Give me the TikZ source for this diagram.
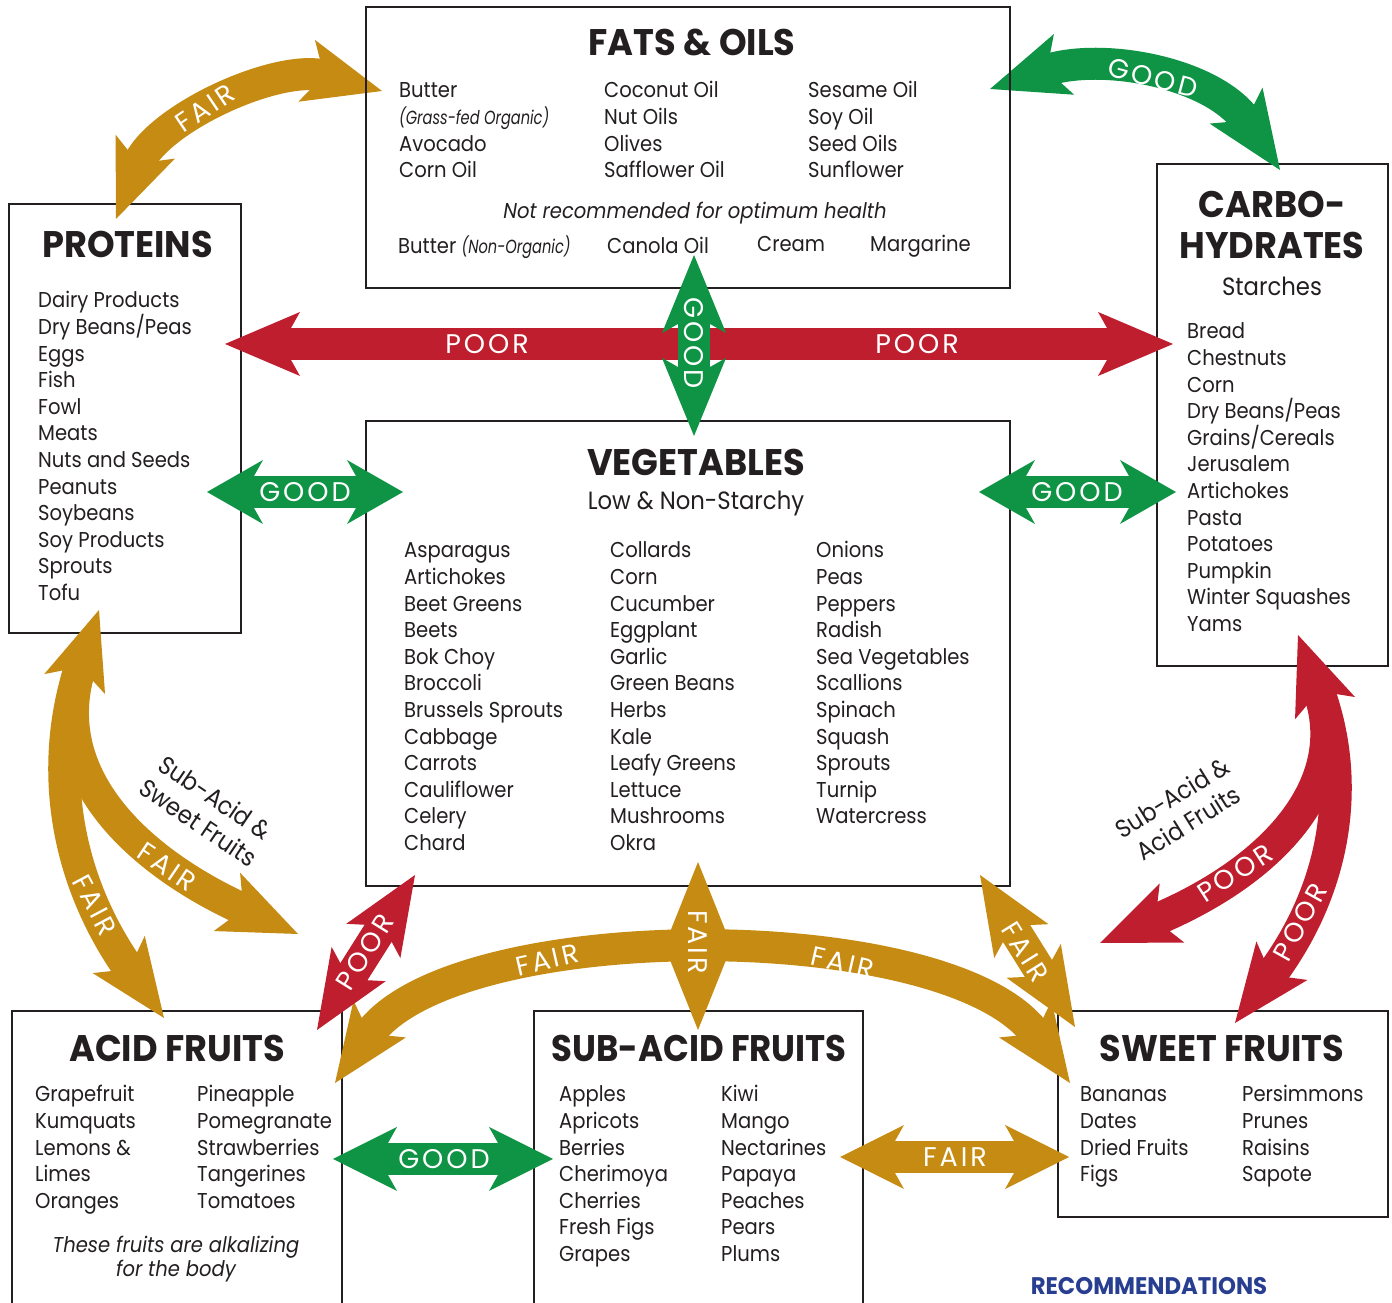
\documentclass[tikz,border=0pt]{standalone}
\usepackage{fontspec}
\setmainfont{Poppins}[FakeStretch=0.91]
\newfontfamily\ttlfont{Poppins}[FakeStretch=0.95]
\newfontfamily\labfont{Poppins}[LetterSpace=11]
\newfontfamily\condfont{Poppins}[FakeStretch=0.77]
\usetikzlibrary{calc}
\definecolor{gold}{RGB}{198,139,18}
\definecolor{poor}{RGB}{190,30,45}
\definecolor{good}{RGB}{15,148,69}
\definecolor{boxline}{RGB}{35,31,32}
\definecolor{recblue}{RGB}{40,62,145}
\newcommand\ahd[4]{\fill[#1,shift={(#2)},rotate=#3] (0,0) -- (-#4,32) -- ({-#4+18},0) -- (-#4,-32) -- cycle;}
\newcommand\sarr[6]{%
  \draw[#1,line width=32pt] ($(#2)!\the\numexpr#6-20\relax pt!(#4)$) -- ($(#4)!\the\numexpr#6-20\relax pt!(#2)$);
  \ahd{#1}{#2}{#3}{#6}\ahd{#1}{#4}{#5}{#6}}
\newcommand\carr[7]{%
  \draw[#1,line width=32pt] ($(#2)+(#3+180:58)$) .. controls +(#3+180:#6) and +(#5+180:#7) .. ($(#4)+(#5+180:58)$);
  \ahd{#1}{#2}{#3}{78}\ahd{#1}{#4}{#5}{78}}
\tikzset{
  item/.style={anchor=base west, inner sep=0, text=boxline, font=\fontsize{21.5}{24}\selectfont},
  ttl/.style={anchor=base, inner sep=0, text=boxline, font=\ttlfont\fontsize{37}{40}\selectfont\bfseries},
  sub/.style={anchor=base, inner sep=0, text=boxline, font=\fontsize{25}{28}\selectfont},
  box/.style={draw=boxline, line width=2.5pt},
  lab/.style={text=white, inner sep=0, font=\labfont\fontsize{27}{27}\selectfont},
  blk/.style={text=boxline, inner sep=0, font=\fontsize{25}{30}\selectfont},
  ital/.style={anchor=base, inner sep=0, text=boxline, font=\itshape\fontsize{21.5}{24}\selectfont},
}
\begin{document}
\begin{tikzpicture}[x=1pt,y=1pt]
\useasboundingbox[fill=white] (0,0) rectangle (1392,1303);
% boxes
\draw[box] (366,1015) rectangle (1010,1296);
\draw[box] (9,670) rectangle (241,1099);
\draw[box] (1157,637) rectangle (1388,1139);
\draw[box] (366,417) rectangle (1010,882);
\draw[box] (12,-3) -- (12,292) -- (342,292) -- (342,-3);
\draw[box] (534,-3) -- (534,292) -- (863,292) -- (863,-3);
\draw[box] (1058,86) rectangle (1388,292);
% FATS & OILS
\node[ttl] (tfat) at (692,1247) {FATS \& OILS};
\node[item] (f1a) at (399,1205) {Butter};
\node[item,font=\condfont\itshape\fontsize{19}{22}\selectfont] (f1b) at (399,1178.4) {(Grass-fed Organic)};
\node[item] (f1c) at (399,1151.8) {Avocado};
\node[item] (f1d) at (399,1125.2) {Corn Oil};
\foreach \t [count=\i from 0] in {Coconut Oil,Nut Oils,Olives,Safflower Oil}
  \node[item] (f2\i) at (604,1205-26.6*\i) {\t};
\foreach \t [count=\i from 0] in {Sesame Oil,Soy Oil,Seed Oils,Sunflower}
  \node[item] (f3\i) at (808,1205-26.6*\i) {\t};
\node[ital] (fnr) at (695,1084) {Not recommended for optimum health};
\node[item] (fb1) at (398,1049) {Butter {\condfont\itshape\fontsize{19}{22}\selectfont (Non-Organic)}};
\node[item] (fb2) at (607,1049) {Canola Oil};
\node[item] (fb3) at (757,1051) {Cream};
\node[item] (fb4) at (870,1051) {Margarine};
% PROTEINS
\node[ttl] (tpro) at (127.5,1045) {PROTEINS};
\foreach \t [count=\i from 0] in {Dairy Products,Dry Beans/Peas,Eggs,Fish,Fowl,Meats,Nuts and Seeds,Peanuts,Soybeans,Soy Products,Sprouts,Tofu}
  \node[item] (p\i) at (38,995-26.6*\i) {\t};
% CARBO
\node[ttl] (tcar1) at (1272,1085) {CARBO-};
\node[ttl] (tcar2) at (1272,1044) {HYDRATES};
\node[sub] (tcar3) at (1272,1007) {Starches};
\foreach \t [count=\i from 0] in {Bread,Chestnuts,Corn,Dry Beans/Peas,Grains/Cereals,Jerusalem,Artichokes,Pasta,Potatoes,Pumpkin,Winter Squashes,Yams}
  \node[item] (c\i) at (1187,964-26.6*\i) {\t};
% VEGETABLES
\node[ttl] (tveg) at (696,827) {VEGETABLES};
\node[sub] (tveg2) at (696,793) {Low \& Non-Starchy};
\foreach \t [count=\i from 0] in {Asparagus,Artichokes,Beet Greens,Beets,Bok Choy,Broccoli,Brussels Sprouts,Cabbage,Carrots,Cauliflower,Celery,Chard}
  \node[item] (v1\i) at (404,745-26.6*\i) {\t};
\foreach \t [count=\i from 0] in {Collards,Corn,Cucumber,Eggplant,Garlic,Green Beans,Herbs,Kale,Leafy Greens,Lettuce,Mushrooms,Okra}
  \node[item] (v2\i) at (610,745-26.6*\i) {\t};
\foreach \t [count=\i from 0] in {Onions,Peas,Peppers,Radish,Sea Vegetables,Scallions,Spinach,Squash,Sprouts,Turnip,Watercress}
  \node[item] (v3\i) at (816,745-26.6*\i) {\t};
% ACID FRUITS
\node[ttl] (tacid) at (177,241) {ACID FRUITS};
\foreach \t [count=\i from 0] in {Grapefruit,Kumquats,Lemons \&,Limes,Oranges}
  \node[item] (a1\i) at (35,201-26.6*\i) {\t};
\foreach \t [count=\i from 0] in {Pineapple,Pomegranate,Strawberries,Tangerines,Tomatoes}
  \node[item] (a2\i) at (197,201-26.6*\i) {\t};
\node[ital] (aln1) at (176,50) {These fruits are alkalizing};
\node[ital] (aln2) at (176,26) {for the body};
% SUB-ACID
\node[ttl,xscale=0.965] (tsub) at (699,241) {SUB-ACID FRUITS};
\foreach \t [count=\i from 0] in {Apples,Apricots,Berries,Cherimoya,Cherries,Fresh Figs,Grapes}
  \node[item] (s1\i) at (559,201-26.6*\i) {\t};
\foreach \t [count=\i from 0] in {Kiwi,Mango,Nectarines,Papaya,Peaches,Pears,Plums}
  \node[item] (s2\i) at (721,201-26.6*\i) {\t};
% SWEET
\node[ttl] (tswe) at (1222,241) {SWEET FRUITS};
\foreach \t [count=\i from 0] in {Bananas,Dates,Dried Fruits,Figs}
  \node[item] (w1\i) at (1080,201-26.6*\i) {\t};
\foreach \t [count=\i from 0] in {Persimmons,Prunes,Raisins,Sapote}
  \node[item] (w2\i) at (1242,201-26.6*\i) {\t};
\node[anchor=base,inner sep=0,text=recblue,font=\ttlfont\fontsize{24}{28}\selectfont\bfseries] (rec) at (1149,8) {RECOMMENDATIONS};
% black rotated texts
\node[blk,rotate=-34] (bl1) at (215.4,505.4) {Sub-Acid \&};
\node[blk,rotate=-34] (bl2) at (198.6,480.6) {Sweet Fruits};
\node[blk,rotate=32] (br1) at (1172.1,505.7) {Sub-Acid \&};
\node[blk,rotate=32] (br2) at (1188,480.3) {Acid Fruits};
% ---- arrows
\coordinate (a1L) at (116,1084); \coordinate (a1R) at (382,1212);
\carr{gold}{a1L}{248}{a1R}{345}{50}{50}
\coordinate (a2L) at (990,1214); \coordinate (a2R) at (1280,1133);
\carr{good}{a2L}{198.4}{a2R}{304.3}{60}{60}
\coordinate (a3L) at (225,959); \coordinate (a3R) at (1173,959);
\sarr{poor}{a3L}{180}{a3R}{0}{75}
\coordinate (a4T) at (694,1048); \coordinate (a4B) at (694,867);
\sarr{good}{a4T}{90}{a4B}{270}{78}
\coordinate (a5L) at (207,811); \coordinate (a5R) at (403,811);
\sarr{good}{a5L}{180}{a5R}{0}{56}
\coordinate (a6L) at (979,811); \coordinate (a6R) at (1176,811);
\sarr{good}{a6L}{180}{a6R}{0}{56}
\coordinate (a13L) at (333,144); \coordinate (a13R) at (553,144);
\sarr{good}{a13L}{180}{a13R}{0}{64}
\coordinate (a14L) at (840,146); \coordinate (a14R) at (1069,146);
\sarr{gold}{a14L}{180}{a14R}{0}{64}
\coordinate (a12L) at (335,220); \coordinate (a12R) at (1070,220);
\carr{gold}{a12L}{235}{a12R}{305}{147}{147}
\coordinate (a11T) at (698,441); \coordinate (a11B) at (698,273);
\sarr{gold}{a11T}{90}{a11B}{270}{80}
\coordinate (a10A) at (980,428); \coordinate (a10B) at (1075,276);
\sarr{gold}{a10A}{122}{a10B}{302}{78}
\coordinate (a9A) at (317,273); \coordinate (a9B) at (415,428);
\sarr{poor}{a9A}{237.7}{a9B}{57.7}{78}
% left fork
\coordinate (a7T) at (99,693); \coordinate (a7A) at (164,285); \coordinate (a7B) at (298,369);
\draw[gold,line width=32pt] ($(a7T)+(251.8:58)$) .. controls +(251.8:110) and +(125.5:110) .. ($(a7A)+(125.5:58)$);
\draw[gold,line width=32pt] ($(a7T)+(251.8:58)$) .. controls +(251.8:120) and +(155.7:110) .. ($(a7B)+(155.7:58)$);
\ahd{gold}{a7T}{71.8}{78}\ahd{gold}{a7A}{305.5}{78}\ahd{gold}{a7B}{335.7}{78}
% right fork
\coordinate (a8T) at (1298,668); \coordinate (a8L) at (1100,360); \coordinate (a8D) at (1235,280);
\draw[poor,line width=32pt] ($(a8T)+(290.3:58)$) .. controls +(290.3:100) and +(53:110) .. ($(a8D)+(53:58)$);
\draw[poor,line width=32pt] ($(a8T)+(290.3:58)$) .. controls +(290.3:100) and +(22.6:130) .. ($(a8L)+(22.6:58)$);
\ahd{poor}{a8T}{110.3}{78}\ahd{poor}{a8L}{202.6}{78}\ahd{poor}{a8D}{233}{78}
% box edges on top
\draw[box] (366,1015) -- (366,1296) (1010,1015) -- (1010,1296);
% ---- labels
\node[lab,rotate=34] (l1) at (205,1195) {FAIR};
\node[lab,rotate=-15] (l2) at (1153,1225) {GOOD};
\node[lab] (l3a) at (487,959) {POOR};
\node[lab] (l3b) at (917,959) {POOR};
\node[lab,rotate=-90] (l4) at (694,960) {GOOD};
\node[lab] (l5) at (305,811) {GOOD};
\node[lab] (l6) at (1077,811) {GOOD};
\node[lab,rotate=-62] (l7a) at (95,398) {FAIR};
\node[lab,rotate=-34] (l7b) at (167,436) {FAIR};
\node[lab,rotate=33] (l8a) at (1235,430) {POOR};
\node[lab,rotate=61] (l8b) at (1300,381) {POOR};
\node[lab,rotate=58] (l9) at (365,351) {POOR};
\node[lab,rotate=-58] (l10) at (1025,351) {FAIR};
\node[lab,rotate=-90] (l11) at (698,361) {FAIR};
\node[lab,rotate=13] (l12a) at (547,343) {FAIR};
\node[lab,rotate=-13] (l12b) at (843,340) {FAIR};
\node[lab] (l13) at (444,144) {GOOD};
\node[lab] (l14) at (955,146) {FAIR};
\end{tikzpicture}
\end{document}
